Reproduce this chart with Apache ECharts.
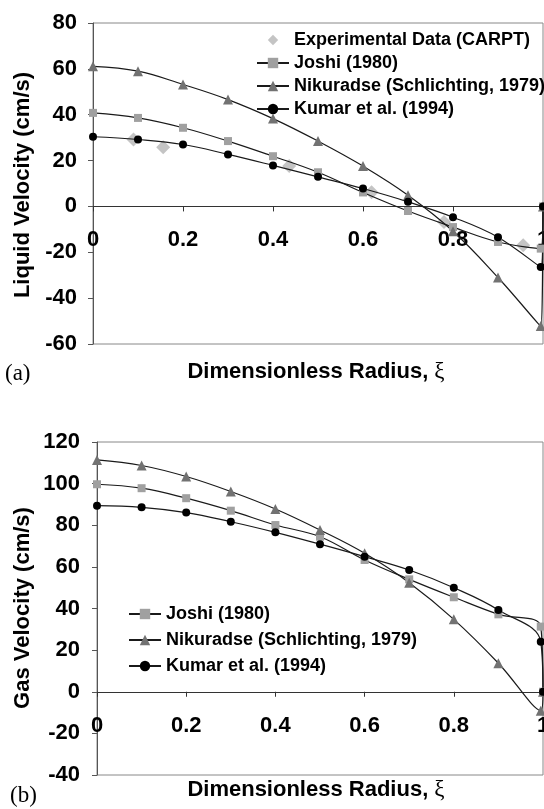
<!DOCTYPE html>
<html>
<head>
<meta charset="utf-8">
<script src="https://cdn.jsdelivr.net/npm/echarts@6/dist/echarts.min.js"></script>
<style>
html,body{margin:0;padding:0;background:#fff;}
#chart{width:544px;height:809px;}
</style>
</head>
<body>
<div id="chart"></div>
<script>
// ---- data ----
var xModel = [0, 0.1, 0.2, 0.3, 0.4, 0.5, 0.6, 0.7, 0.8, 0.9, 0.995, 1.0];

var expX = [0.09, 0.156, 0.436, 0.619, 0.78, 0.956];
var expLiquid = [29.2, 25.8, 17.6, 6.2, -6.8, -16.9];

var joshiLiquid = [40.8, 38.6, 34.3, 28.5, 21.9, 14.9, 6.1, -2.0, -9.0, -15.5, -18.4, 0];
var nikuradseLiquid = [61.1, 59.0, 53.2, 46.6, 38.3, 28.5, 17.6, 4.9, -10.8, -31.0, -52.2, 0];
var kumarLiquid = [30.4, 29.2, 27.0, 22.7, 17.9, 12.9, 7.8, 2.0, -4.7, -13.4, -26.4, 0];

var joshiGas = [99.7, 97.8, 93.0, 87.0, 80.1, 74.5, 63.3, 54.0, 45.4, 37.2, 31.3, 0];
var nikuradseGas = [111.4, 108.7, 103.4, 96.2, 87.8, 77.7, 66.5, 52.4, 34.8, 13.7, -9.1, 0];
var kumarGas = [89.4, 88.6, 86.1, 81.7, 76.6, 70.9, 64.9, 58.5, 50.0, 39.3, 24.0, 0];

var yRangeLiquid = [-60, 80];
var yRangeGas = [-40, 120];

var names = ['Experimental Data (CARPT)', 'Joshi (1980)', 'Nikuradse (Schlichting, 1979)', 'Kumar et al. (1994)'];
var xTitle = 'Dimensionless Radius, ';
var xSymbol = 'ξ';
var yTitleA = 'Liquid Velocity (cm/s)';
var yTitleB = 'Gas Velocity (cm/s)';

// ---- helpers ----
function pairs(xs, ys) { return xs.map(function (x, i) { return [x, ys[i]]; }); }
var FONT = '"Liberation Sans", Arial, Helvetica, sans-serif';
var SERIF = '"Liberation Serif", "Times New Roman", serif';
var LINE = '#1a1a1a';

var gridA = { left: 93, right: 1, top: 23, height: 321 };
var gridB = { left: 97, right: 1, top: 442, height: 333 };

function modelSeries(name, data, xi, symbol, color, size) {
  return {
    type: 'line', name: name, xAxisIndex: xi, yAxisIndex: xi,
    data: pairs(xModel, data), smooth: 0.4,
    symbol: symbol, symbolSize: size, showSymbol: true,
    lineStyle: { color: LINE, width: 1.2 },
    itemStyle: { color: color, borderWidth: 0 },
    emphasis: { disabled: true }, animation: false, clip: false, z: 3
  };
}

function xAxisCfg(gi, grid, range) {
  // place the x axis on the zero line of the y scale
  var off = -grid.height * (0 - range[0]) / (range[1] - range[0]);
  return {
    type: 'value', gridIndex: gi, min: 0, max: 1, interval: 0.2,
    position: 'bottom', offset: off,
    axisLine: { onZero: false, lineStyle: { color: '#333', width: 1 } },
    axisTick: { show: true, length: 5, lineStyle: { color: '#333' } },
    axisLabel: { margin: 23, color: '#000', fontFamily: FONT, fontWeight: 'bold', fontSize: 22,
      formatter: function (v) { return String(Math.round(v * 10) / 10); } },
    splitLine: { show: false }
  };
}
function yAxisCfg(gi, range, margin) {
  return {
    type: 'value', gridIndex: gi, min: range[0], max: range[1], interval: 20,
    axisLine: { show: true, onZero: false, lineStyle: { color: '#555', width: 1 } },
    axisTick: { show: true, length: 5, lineStyle: { color: '#555' } },
    axisLabel: { margin: margin, color: '#000', fontFamily: FONT, fontWeight: 'bold', fontSize: 22 },
    splitLine: { show: false }
  };
}

var chart = echarts.init(document.getElementById('chart'), null, { renderer: 'canvas' });

var legendText = { color: '#000', fontFamily: FONT, fontWeight: 'bold', fontSize: 18 };

function gridCfg(g) {
  return Object.assign({ show: true, borderColor: '#888', borderWidth: 1, backgroundColor: 'transparent',
    containLabel: false, outerBoundsMode: 'none' }, g);
}

var option = {
  animation: false,
  backgroundColor: '#fff',
  grid: [gridCfg(gridA), gridCfg(gridB)],
  xAxis: [xAxisCfg(0, gridA, yRangeLiquid), xAxisCfg(1, gridB, yRangeGas)],
  yAxis: [yAxisCfg(0, yRangeLiquid, 16), yAxisCfg(1, yRangeGas, 17)],
  legend: [
    { orient: 'vertical', left: 251, top: 26, itemWidth: 32, itemHeight: 13, itemGap: 5,
      textStyle: legendText, selectedMode: false, data: names },
    { orient: 'vertical', left: 123, top: 600, itemWidth: 32, itemHeight: 13, itemGap: 8,
      textStyle: legendText, selectedMode: false, data: names.slice(1) }
  ],
  series: [
    { type: 'line', name: names[0], xAxisIndex: 0, yAxisIndex: 0, data: pairs(expX, expLiquid),
      symbol: 'diamond', symbolSize: 14, lineStyle: { width: 0, opacity: 0 },
      itemStyle: { color: '#c4c4c4' }, z: 2, emphasis: { disabled: true } },
    modelSeries(names[1], joshiLiquid, 0, 'rect', '#a0a0a0', 8),
    modelSeries(names[2], nikuradseLiquid, 0, 'triangle', '#727272', 10),
    modelSeries(names[3], kumarLiquid, 0, 'circle', '#000', 8),
    modelSeries(names[1], joshiGas, 1, 'rect', '#a0a0a0', 8),
    modelSeries(names[2], nikuradseGas, 1, 'triangle', '#727272', 10),
    modelSeries(names[3], kumarGas, 1, 'circle', '#000', 8)
  ],
  graphic: [
    { type: 'text', x: 23, y: 185, rotation: Math.PI / 2,
      style: { text: yTitleA, font: 'bold 22px ' + FONT, fill: '#000', align: 'center', verticalAlign: 'middle' } },
    { type: 'text', x: 23, y: 608, rotation: Math.PI / 2,
      style: { text: yTitleB, font: 'bold 22px ' + FONT, fill: '#000', align: 'center', verticalAlign: 'middle' } },
    { type: 'text', x: 316, y: 372,
      style: { text: '{a|' + xTitle + '}{b|' + xSymbol + '}', align: 'center', verticalAlign: 'middle',
        rich: { a: { font: 'bold 22px ' + FONT, fill: '#000' }, b: { font: '23px ' + SERIF, fill: '#000' } } } },
    { type: 'text', x: 316, y: 790,
      style: { text: '{a|' + xTitle + '}{b|' + xSymbol + '}', align: 'center', verticalAlign: 'middle',
        rich: { a: { font: 'bold 22px ' + FONT, fill: '#000' }, b: { font: '23px ' + SERIF, fill: '#000' } } } },
    { type: 'text', x: 5, y: 374,
      style: { text: '(a)', font: '23px ' + SERIF, fill: '#000', verticalAlign: 'middle' } },
    { type: 'text', x: 10, y: 796,
      style: { text: '(b)', font: '23px ' + SERIF, fill: '#000', verticalAlign: 'middle' } }
  ]
};
chart.setOption(option);
</script>
</body>
</html>
